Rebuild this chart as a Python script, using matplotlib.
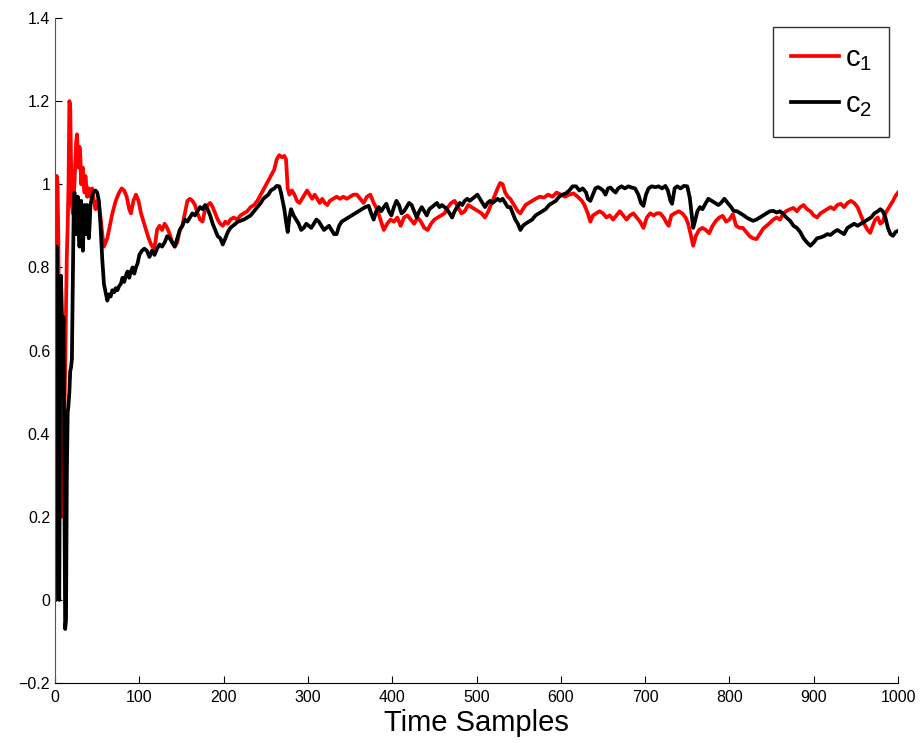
import matplotlib.pyplot as plt

plt.rcParams['font.family'] = ['Liberation Sans', 'DejaVu Sans']
plt.rcParams['mathtext.default'] = 'regular'

# c1 trajectory (sample index, value)
c1_t = [0, 1, 2, 3, 4, 5, 6, 7, 8, 9, 10, 11, 12, 13, 14, 15, 16, 17, 18, 19,
        20, 21, 22, 23, 24, 25, 26, 27, 28, 29, 30, 31, 32, 33, 34, 35, 36, 37, 38, 40,
        42, 44, 46, 48, 50, 52, 54, 56, 58, 60, 62, 65, 68, 72, 76, 79, 82, 85, 88, 90,
        93, 96, 99, 102, 105, 108, 111, 114, 117, 119, 121, 124, 127, 130, 133, 136, 139, 142, 145, 148,
        151, 154, 157, 160, 163, 166, 169, 172, 175, 178, 181, 184, 187, 190, 193, 196, 199, 202, 205, 208,
        212, 216, 220, 224, 228, 232, 236, 240, 244, 248, 252, 256, 260, 263, 266, 269, 272, 274, 276, 278,
        281, 284, 287, 290, 293, 296, 299, 302, 305, 308, 311, 314, 317, 320, 323, 326, 330, 334, 338, 342,
        346, 350, 354, 358, 362, 366, 370, 374, 378, 382, 386, 390, 394, 398, 402, 406, 410, 414, 418, 422,
        426, 430, 434, 438, 442, 446, 450, 454, 458, 462, 466, 470, 474, 478, 482, 486, 490, 494, 498, 502,
        506, 510, 514, 518, 522, 525, 528, 531, 534, 537, 540, 543, 546, 549, 552, 555, 558, 562, 566, 570,
        575, 580, 585, 590, 595, 600, 605, 610, 615, 620, 625, 628, 632, 635, 638, 642, 646, 650, 654, 658,
        662, 666, 670, 674, 678, 682, 686, 690, 694, 698, 702, 706, 710, 714, 718, 722, 726, 728, 731, 735,
        740, 744, 748, 751, 754, 757, 760, 764, 768, 772, 776, 780, 784, 788, 792, 796, 800, 804, 808, 812,
        816, 820, 824, 828, 832, 836, 840, 844, 848, 852, 856, 860, 864, 868, 872, 876, 880, 884, 888, 892,
        896, 900, 904, 908, 912, 916, 920, 924, 928, 932, 936, 940, 944, 948, 952, 955, 958, 961, 964, 967,
        970, 973, 976, 979, 982, 985, 988, 991, 994, 997, 1000]
c1_v = [0.30, 0.90, 1.02, 1.00, 0.85, 0.55, 0.35, 0.25, 0.20, 0.22, 0.30, 0.45, 0.55, 0.70, 0.83, 0.90, 1.00, 1.20, 1.19, 1.05,
        0.95, 0.93, 0.97, 1.00, 1.05, 1.10, 1.12, 1.08, 1.04, 1.09, 1.07, 1.00, 1.03, 1.04, 1.00, 0.98, 1.02, 1.00, 0.97, 0.99,
        0.97, 0.99, 0.96, 0.94, 0.96, 0.95, 0.92, 0.88, 0.85, 0.86, 0.87, 0.90, 0.93, 0.96, 0.98, 0.99, 0.985, 0.97, 0.94, 0.93,
        0.96, 0.975, 0.96, 0.93, 0.91, 0.89, 0.87, 0.855, 0.845, 0.86, 0.89, 0.90, 0.89, 0.905, 0.895, 0.88, 0.86, 0.85, 0.86, 0.89,
        0.90, 0.93, 0.96, 0.965, 0.96, 0.95, 0.93, 0.915, 0.91, 0.94, 0.95, 0.955, 0.945, 0.93, 0.915, 0.905, 0.90, 0.91, 0.905, 0.915,
        0.92, 0.915, 0.925, 0.93, 0.935, 0.945, 0.95, 0.96, 0.975, 0.99, 1.005, 1.02, 1.035, 1.06, 1.07, 1.065, 1.068, 1.06, 0.99, 0.975,
        0.985, 0.975, 0.96, 0.955, 0.965, 0.975, 0.985, 0.975, 0.965, 0.975, 0.965, 0.955, 0.965, 0.955, 0.95, 0.96, 0.965, 0.97, 0.965, 0.97,
        0.965, 0.97, 0.975, 0.975, 0.965, 0.955, 0.97, 0.975, 0.955, 0.94, 0.915, 0.89, 0.905, 0.915, 0.91, 0.92, 0.90, 0.92, 0.925, 0.915,
        0.905, 0.92, 0.91, 0.895, 0.89, 0.905, 0.915, 0.92, 0.925, 0.93, 0.945, 0.955, 0.96, 0.945, 0.93, 0.935, 0.95, 0.945, 0.94, 0.935,
        0.93, 0.92, 0.935, 0.955, 0.975, 0.99, 1.003, 1.00, 0.98, 0.97, 0.965, 0.955, 0.945, 0.935, 0.93, 0.94, 0.95, 0.955, 0.96, 0.965,
        0.97, 0.968, 0.975, 0.97, 0.98, 0.975, 0.97, 0.975, 0.978, 0.97, 0.96, 0.95, 0.93, 0.91, 0.925, 0.93, 0.935, 0.93, 0.92, 0.925,
        0.915, 0.925, 0.935, 0.925, 0.915, 0.925, 0.93, 0.92, 0.91, 0.895, 0.92, 0.93, 0.925, 0.93, 0.93, 0.92, 0.905, 0.90, 0.925, 0.93,
        0.935, 0.93, 0.92, 0.905, 0.88, 0.852, 0.875, 0.89, 0.895, 0.89, 0.882, 0.90, 0.912, 0.92, 0.924, 0.91, 0.915, 0.928, 0.90, 0.895,
        0.895, 0.885, 0.875, 0.87, 0.868, 0.88, 0.893, 0.90, 0.907, 0.915, 0.92, 0.915, 0.93, 0.936, 0.94, 0.943, 0.935, 0.945, 0.95, 0.94,
        0.935, 0.925, 0.92, 0.93, 0.935, 0.94, 0.945, 0.94, 0.95, 0.953, 0.945, 0.955, 0.96, 0.955, 0.945, 0.93, 0.915, 0.90, 0.89, 0.883,
        0.90, 0.915, 0.92, 0.905, 0.91, 0.93, 0.94, 0.95, 0.96, 0.972, 0.98]

# c2 trajectory (sample index, value)
c2_t = [0, 1, 2, 3, 4, 5, 6, 7, 8, 9, 10, 11, 12, 13, 14, 15, 16, 17, 18, 19,
        20, 21, 22, 23, 24, 25, 26, 27, 28, 29, 30, 31, 32, 33, 34, 35, 36, 37, 38, 39,
        40, 41, 42, 45, 48, 50, 52, 54, 56, 58, 60, 62, 64, 66, 68, 70, 72, 74, 76, 78,
        80, 82, 84, 86, 88, 90, 92, 94, 96, 98, 100, 103, 106, 109, 112, 115, 118, 121, 124, 127,
        130, 133, 136, 139, 142, 145, 148, 151, 154, 157, 160, 163, 166, 169, 172, 175, 178, 181, 184, 187,
        190, 193, 196, 199, 202, 205, 208, 211, 214, 217, 220, 224, 228, 232, 236, 240, 244, 247, 250, 253,
        256, 260, 263, 266, 268, 270, 272, 274, 276, 278, 280, 283, 286, 289, 292, 295, 298, 301, 304, 307,
        310, 313, 316, 319, 322, 325, 328, 331, 334, 337, 340, 344, 348, 352, 356, 360, 364, 368, 372, 375,
        378, 381, 384, 387, 390, 393, 396, 399, 402, 405, 408, 411, 414, 417, 420, 423, 426, 429, 432, 435,
        438, 441, 444, 447, 450, 453, 456, 459, 462, 465, 468, 471, 474, 477, 480, 483, 486, 489, 492, 495,
        498, 501, 504, 507, 510, 513, 516, 519, 522, 525, 528, 531, 534, 537, 540, 543, 546, 549, 552, 555,
        558, 562, 566, 570, 574, 578, 582, 586, 590, 594, 598, 602, 606, 610, 614, 618, 622, 626, 630, 632,
        635, 638, 641, 644, 647, 650, 653, 656, 659, 662, 665, 668, 672, 676, 680, 684, 688, 692, 695, 698,
        701, 704, 708, 712, 716, 720, 724, 727, 730, 732, 735, 738, 742, 746, 750, 753, 755, 757, 759, 762,
        765, 768, 772, 775, 779, 783, 787, 790, 794, 798, 802, 805, 809, 813, 817, 821, 825, 828, 832, 836,
        840, 844, 848, 852, 856, 860, 864, 868, 872, 876, 880, 884, 888, 892, 896, 900, 904, 908, 912, 916,
        920, 924, 928, 932, 936, 940, 944, 948, 952, 956, 960, 964, 968, 972, 976, 979, 982, 985, 988, 991,
        994, 997, 1000]
c2_v = [0.00, 0.55, 0.85, 0.60, 0.05, 0.00, 0.50, 0.78, 0.70, 0.62, 0.68, 0.30, -0.07, -0.05, 0.30, 0.45, 0.47, 0.50, 0.55, 0.56,
        0.58, 0.75, 0.92, 0.98, 0.95, 0.88, 0.93, 0.97, 0.90, 0.85, 0.93, 0.96, 0.88, 0.84, 0.90, 0.95, 0.92, 0.88, 0.95, 0.92,
        0.87, 0.90, 0.95, 0.98, 0.985, 0.98, 0.96, 0.90, 0.82, 0.76, 0.74, 0.72, 0.735, 0.73, 0.745, 0.74, 0.75, 0.745, 0.755, 0.76,
        0.775, 0.765, 0.78, 0.79, 0.775, 0.79, 0.80, 0.785, 0.80, 0.81, 0.83, 0.84, 0.845, 0.84, 0.825, 0.84, 0.83, 0.845, 0.855, 0.85,
        0.86, 0.875, 0.87, 0.86, 0.85, 0.87, 0.89, 0.90, 0.915, 0.91, 0.92, 0.93, 0.925, 0.935, 0.945, 0.94, 0.95, 0.94, 0.925, 0.905,
        0.89, 0.875, 0.87, 0.855, 0.87, 0.885, 0.895, 0.90, 0.905, 0.91, 0.912, 0.915, 0.92, 0.925, 0.935, 0.945, 0.955, 0.965, 0.97, 0.975,
        0.985, 0.99, 0.996, 0.995, 0.98, 0.96, 0.94, 0.91, 0.885, 0.92, 0.94, 0.925, 0.915, 0.905, 0.89, 0.895, 0.905, 0.90, 0.895, 0.905,
        0.915, 0.91, 0.90, 0.89, 0.895, 0.90, 0.89, 0.88, 0.88, 0.90, 0.91, 0.915, 0.92, 0.925, 0.93, 0.935, 0.94, 0.945, 0.948, 0.93,
        0.915, 0.935, 0.945, 0.935, 0.945, 0.953, 0.935, 0.925, 0.945, 0.96, 0.95, 0.93, 0.935, 0.945, 0.955, 0.95, 0.935, 0.92, 0.935, 0.945,
        0.935, 0.925, 0.94, 0.945, 0.95, 0.955, 0.945, 0.95, 0.945, 0.94, 0.93, 0.92, 0.935, 0.945, 0.955, 0.95, 0.96, 0.965, 0.96, 0.965,
        0.97, 0.975, 0.965, 0.955, 0.945, 0.955, 0.96, 0.955, 0.96, 0.965, 0.96, 0.965, 0.955, 0.945, 0.945, 0.93, 0.915, 0.905, 0.89, 0.90,
        0.905, 0.91, 0.915, 0.925, 0.93, 0.935, 0.94, 0.95, 0.955, 0.96, 0.97, 0.975, 0.978, 0.985, 0.995, 0.995, 0.985, 0.99, 0.98, 0.965,
        0.96, 0.975, 0.99, 0.993, 0.99, 0.985, 0.975, 0.99, 0.992, 0.985, 0.98, 0.99, 0.995, 0.99, 0.995, 0.992, 0.99, 0.975, 0.955, 0.948,
        0.975, 0.99, 0.995, 0.993, 0.995, 0.99, 0.996, 0.985, 0.96, 0.953, 0.99, 0.995, 0.99, 0.996, 0.995, 0.967, 0.93, 0.895, 0.91, 0.935,
        0.945, 0.94, 0.955, 0.965, 0.96, 0.955, 0.95, 0.955, 0.965, 0.955, 0.945, 0.936, 0.935, 0.93, 0.925, 0.919, 0.915, 0.912, 0.915, 0.92,
        0.925, 0.93, 0.935, 0.936, 0.932, 0.935, 0.928, 0.919, 0.912, 0.90, 0.895, 0.885, 0.87, 0.86, 0.852, 0.86, 0.87, 0.872, 0.875, 0.88,
        0.878, 0.885, 0.89, 0.885, 0.88, 0.895, 0.90, 0.905, 0.90, 0.905, 0.91, 0.915, 0.92, 0.93, 0.935, 0.94, 0.935, 0.92, 0.895, 0.88,
        0.876, 0.885, 0.888]

y_ticks = [-0.2, 0, 0.2, 0.4, 0.6, 0.8, 1, 1.2, 1.4]
y_tick_labels = ['\u22120.2', '0', '0.2', '0.4', '0.6', '0.8', '1', '1.2', '1.4']
x_ticks = [0, 100, 200, 300, 400, 500, 600, 700, 800, 900, 1000]

fig = plt.figure(figsize=(9.22, 7.43), dpi=100)
ax = fig.add_axes([0.0597, 0.0807, 0.9143, 0.8951])

ax.plot(c1_t, c1_v, color='red', linewidth=2.7, label='c$_1$')
ax.plot(c2_t, c2_v, color='black', linewidth=2.7, label='c$_2$')

ax.set_xlim(0, 1000)
ax.set_ylim(-0.2, 1.4)
ax.set_xticks(x_ticks)
ax.set_yticks(y_ticks)
ax.set_yticklabels(y_tick_labels)
ax.tick_params(direction='in', length=5, width=0.8, labelsize=11.5, top=False, right=False)
ax.tick_params(axis='x', pad=5)

for side in ['top', 'right']:
    ax.spines[side].set_visible(False)
ax.spines['left'].set_color('#555555')
ax.spines['left'].set_linewidth(0.8)
ax.spines['bottom'].set_linewidth(0.8)

ax.set_xlabel('Time Samples', fontsize=21, labelpad=3)

leg = ax.legend(loc='upper right', fontsize=21, frameon=True, fancybox=False,
                handlelength=1.65, handletextpad=0.2, borderpad=0.6,
                labelspacing=0.6, borderaxespad=0.3)
leg.get_frame().set_edgecolor('black')
leg.get_frame().set_linewidth(1.0)

fig.savefig('out.png', dpi=100)
